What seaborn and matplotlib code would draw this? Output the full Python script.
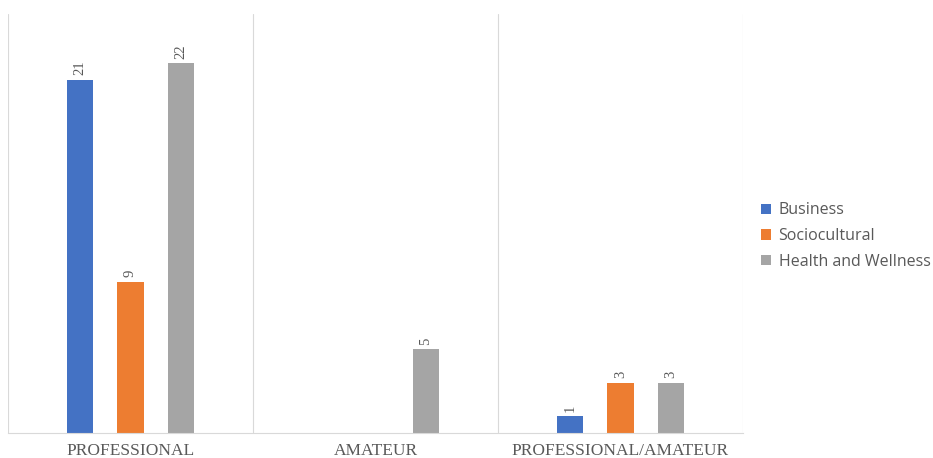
import matplotlib
matplotlib.use("Agg")
import matplotlib.pyplot as plt
import seaborn as sns
import pandas as pd
import numpy as np
from matplotlib.ticker import FixedLocator

categories = ["PROFESSIONAL", "AMATEUR", "PROFESSIONAL/AMATEUR"]
series = ["Business", "Sociocultural", "Health and Wellness"]
business = [21, 0, 1]
sociocultural = [9, 0, 3]
health = [22, 5, 3]
colors = ["#4472C4", "#ED7D31", "#A5A5A5"]

rows = []
for s, vals in zip(series, [business, sociocultural, health]):
    for c, v in zip(categories, vals):
        rows.append({"category": c, "series": s, "value": v})
df = pd.DataFrame(rows)

sns.set_theme(style="white")
fig = plt.figure(figsize=(9.33, 4.58), dpi=100)
ax = fig.add_axes([8/933, 25/458, 735/933, 419/458])

sns.barplot(data=df, x="category", y="value", hue="series", order=categories,
            hue_order=series, palette=colors, width=0.618, gap=0.47,
            saturation=1, ax=ax, legend=True, edgecolor="none")

ax.set_ylim(0, 24.9)
ax.set_xlim(-0.5, 2.5)
ax.set_xlabel("")
ax.set_ylabel("")
ax.set_yticks([])
ax.xaxis.set_minor_locator(FixedLocator([-0.5, 0.5, 1.5, 2.5]))
ax.grid(False)
ax.grid(True, which="minor", axis="x", color="#D9D9D9", linewidth=0.8)
ax.tick_params(axis="x", which="both", length=0, pad=7)
for lab in ax.get_xticklabels():
    lab.set_fontfamily("Liberation Serif")
    lab.set_fontsize(12.5)
    lab.set_color("#595959")
for sp in ["top", "left", "right"]:
    ax.spines[sp].set_visible(False)
ax.spines["bottom"].set_color("#D9D9D9")
ax.spines["bottom"].set_linewidth(0.8)

for cont in ax.containers:
    for bar, v in zip(cont, cont.datavalues):
        if v > 0:
            ax.annotate(f"{int(v)}", (bar.get_x() + bar.get_width()/2, v),
                        xytext=(0, 3), textcoords="offset points",
                        rotation=90, ha="center", va="bottom",
                        fontfamily="Liberation Serif", fontsize=10.5, color="#595959")

leg = ax.legend(loc="center left", bbox_to_anchor=(1.005, 0.47), frameon=False,
                prop={"family": "Open Sans", "size": 11.5}, handlelength=0.65,
                handleheight=0.65, handletextpad=0.45, labelspacing=0.6)
for t in leg.get_texts():
    t.set_color("#595959")

fig.savefig("out.png", dpi=100)
